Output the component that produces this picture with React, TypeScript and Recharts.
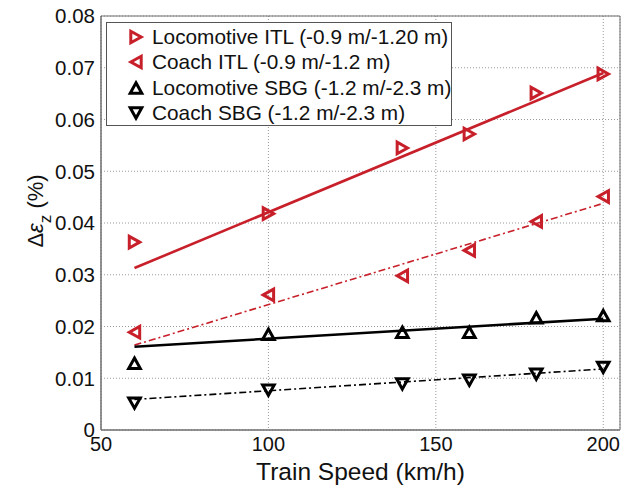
import React from "react";
import {
  ComposedChart,
  Scatter,
  Line,
  XAxis,
  YAxis,
  CartesianGrid,
  ReferenceArea,
} from "recharts";

// measured points
const speeds = [60, 100, 140, 160, 180, 200];
const locoItl = [0.0363, 0.0418, 0.0545, 0.0572, 0.0651, 0.0688];
const coachItl = [0.0189, 0.0261, 0.0298, 0.0347, 0.0403, 0.0451];
const locoSbg = [0.0129, 0.0185, 0.0189, 0.0189, 0.0217, 0.0221];
const coachSbg = [0.0052, 0.0077, 0.0089, 0.0096, 0.0108, 0.0121];

// linear fits (end points)
const fitSpeeds = [60, 200];
const locoItlFit = [0.0313, 0.069];
const coachItlFit = [0.0164, 0.0438];
const locoSbgFit = [0.0161, 0.0215];
const coachSbgFit = [0.0059, 0.0118];

const xTicks = [50, 100, 150, 200];
const yTicks = [0, 0.01, 0.02, 0.03, 0.04, 0.05, 0.06, 0.07, 0.08];

const legendLabels = [
  "Locomotive ITL (-0.9 m/-1.20 m)",
  "Coach ITL (-0.9 m/-1.2 m)",
  "Locomotive SBG (-1.2 m/-2.3 m)",
  "Coach SBG (-1.2 m/-2.3 m)",
];

const RED = "#c8202a";
const FONT = "'Liberation Sans', Arial, sans-serif";

const toPts = (xs: number[], ys: number[]) => xs.map((x, i) => ({ x, y: ys[i] }));

type Dir = "right" | "left" | "up" | "down";

function triPoints(cx: number, cy: number, dir: Dir) {
  const a = 5.8;
  const b = 5.2;
  if (dir === "up") return `${cx},${cy - b} ${cx + a},${cy + b} ${cx - a},${cy + b}`;
  if (dir === "down") return `${cx},${cy + b} ${cx + a},${cy - b} ${cx - a},${cy - b}`;
  if (dir === "right") return `${cx + b},${cy} ${cx - b},${cy - a} ${cx - b},${cy + a}`;
  return `${cx - b},${cy} ${cx + b},${cy - a} ${cx + b},${cy + a}`;
}

const makeShape = (dir: Dir, color: string) => (props: any) => (
  <polygon
    points={triPoints(props.cx, props.cy, dir)}
    fill="none"
    stroke={color}
    strokeWidth={3}
    strokeLinejoin="miter"
  />
);

const series: { label: string; dir: Dir; color: string }[] = [
  { label: legendLabels[0], dir: "right", color: RED },
  { label: legendLabels[1], dir: "left", color: RED },
  { label: legendLabels[2], dir: "up", color: "#000" },
  { label: legendLabels[3], dir: "down", color: "#000" },
];

function YLabel(props: any) {
  const vb = props.viewBox || { x: 0, y: 16, width: 101, height: 414 };
  const cx = 37;
  const cy = vb.y + vb.height / 2 - 12;
  return (
    <text
      x={cx}
      y={cy}
      transform={`rotate(-90, ${cx}, ${cy})`}
      textAnchor="middle"
      dominantBaseline="middle"
      fontSize={22}
      fontFamily={FONT}
      fill="#111"
    >
      Δ<tspan fontStyle="italic">ε</tspan>
      <tspan baselineShift="sub" fontSize={17}>z</tspan>
      <tspan> (%)</tspan>
    </text>
  );
}

function XLabel(props: any) {
  const vb = props.viewBox || { x: 101, y: 430, width: 519, height: 58 };
  return (
    <text
      x={vb.x + vb.width / 2}
      y={480}
      textAnchor="middle"
      fontSize={24.5}
      fontFamily={FONT}
      fill="#111"
    >
      Train Speed (km/h)
    </text>
  );
}

export default function App() {
  return (
    <div style={{ position: "absolute", left: 0, top: 0, width: 635, height: 488, background: "#fff" }}>
      <ComposedChart width={635} height={488} margin={{ top: 16, right: 15, bottom: 0, left: 0 }}>
        <CartesianGrid stroke="#9a9a9a" strokeDasharray="1 2" strokeWidth={1} />
        <XAxis
          type="number"
          dataKey="x"
          domain={[50, 205]}
          ticks={xTicks}
          allowDataOverflow
          height={58}
          tickLine={false}
          tickSize={6}
          tickMargin={1}
          axisLine={{ stroke: "#6e6e6e" }}
          tick={{ fill: "#111", fontSize: 20, fontFamily: FONT }}
          label={<XLabel />}
        />
        <YAxis
          type="number"
          domain={[0, 0.08]}
          ticks={yTicks}
          allowDataOverflow
          width={101}
          tickLine={false}
          tickSize={6}
          tickMargin={0}
          axisLine={{ stroke: "#6e6e6e" }}
          tick={{ fill: "#111", fontSize: 20.5, fontFamily: FONT }}
          tickFormatter={(v: number) => (v === 0 ? "0" : v.toFixed(2))}
          label={<YLabel />}
        />
        <ReferenceArea x1={50} x2={205} y1={0} y2={0.08} fill="none" stroke="#6e6e6e" strokeWidth={1} />

        <Line data={toPts(fitSpeeds, locoItlFit)} dataKey="y" stroke={RED} strokeWidth={2.6} dot={false} isAnimationActive={false} />
        <Line data={toPts(fitSpeeds, coachItlFit)} dataKey="y" stroke={RED} strokeWidth={1.6} strokeDasharray="7 3 2 3" dot={false} isAnimationActive={false} />
        <Line data={toPts(fitSpeeds, locoSbgFit)} dataKey="y" stroke="#000" strokeWidth={2.6} dot={false} isAnimationActive={false} />
        <Line data={toPts(fitSpeeds, coachSbgFit)} dataKey="y" stroke="#000" strokeWidth={1.6} strokeDasharray="7 3 2 3" dot={false} isAnimationActive={false} />

        <Scatter data={toPts(speeds, locoItl)} dataKey="y" shape={makeShape("right", RED)} isAnimationActive={false} />
        <Scatter data={toPts(speeds, coachItl)} dataKey="y" shape={makeShape("left", RED)} isAnimationActive={false} />
        <Scatter data={toPts(speeds, locoSbg)} dataKey="y" shape={makeShape("up", "#000")} isAnimationActive={false} />
        <Scatter data={toPts(speeds, coachSbg)} dataKey="y" shape={makeShape("down", "#000")} isAnimationActive={false} />
      </ComposedChart>

      <div
        style={{
          position: "absolute",
          left: 106,
          top: 22,
          width: 346,
          height: 104,
          border: "1px solid #555",
          background: "#fff",
          boxSizing: "border-box",
          fontFamily: FONT,
          fontSize: 20.8,
          color: "#111",
          paddingTop: 1,
        }}
      >
        {series.map((s) => (
          <div key={s.label} style={{ display: "flex", alignItems: "center", height: 25.5 }}>
            <svg width={45} height={20} style={{ flex: "none" }}>
              <polygon points={triPoints(29, 10, s.dir)} fill="none" stroke={s.color} strokeWidth={3} />
            </svg>
            <span style={{ whiteSpace: "nowrap", lineHeight: "20px" }}>{s.label}</span>
          </div>
        ))}
      </div>
    </div>
  );
}
